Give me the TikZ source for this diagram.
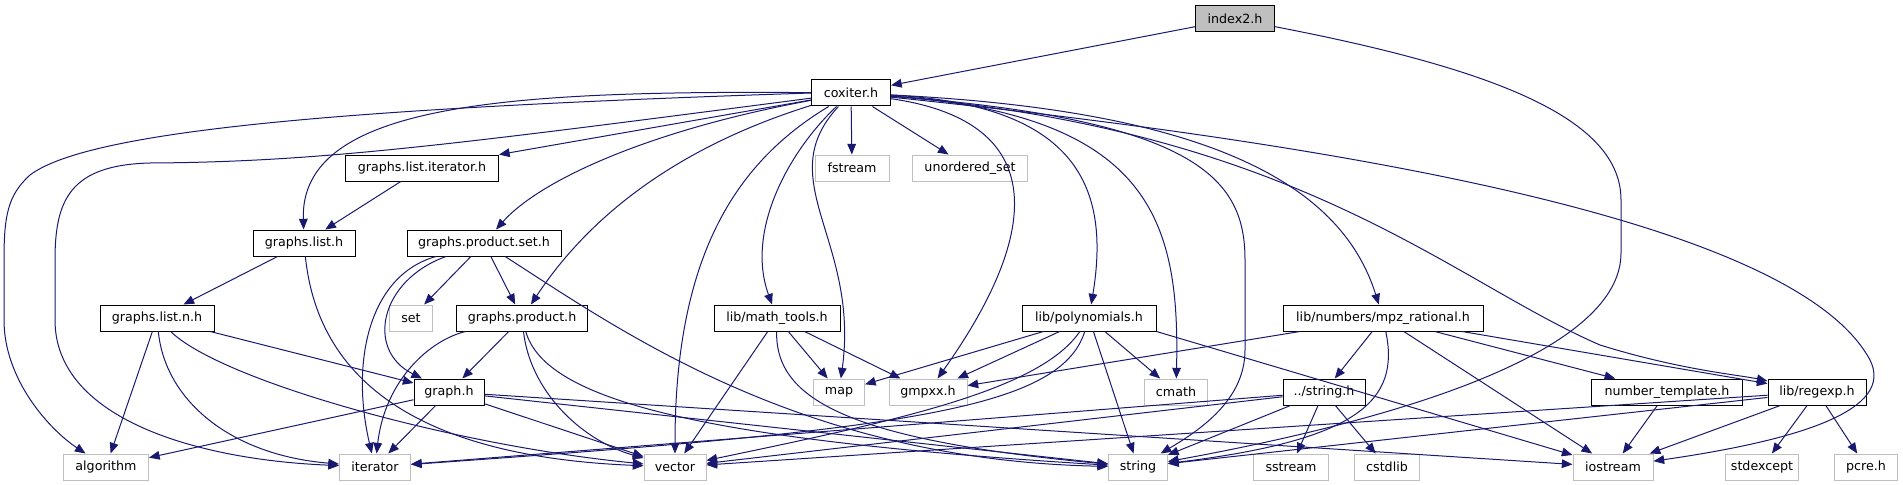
\documentclass[tikz,border=0pt]{standalone}
\usepackage{fontspec}
\setmainfont{DejaVu Sans}
\usetikzlibrary{arrows.meta}
\definecolor{depblue}{HTML}{191970}
\definecolor{extgray}{HTML}{BFBFBF}

\begin{document}
\begin{tikzpicture}[
        x=0.75pt, y=0.75pt,
        hdr/.style={
            draw=black,
            line width=0.75pt,
            fill=white,
            minimum height=19.5pt,
            inner xsep=2pt,
            inner ysep=1pt,
            font=\fontsize{9.5}{11}\selectfont
        },
        syshdr/.style={hdr, draw=extgray},
        roothdr/.style={hdr, fill=extgray},
        dep/.style={-{Triangle[length=8pt, width=6.5pt]}, draw=depblue, line width=0.75pt}
    ]
        \useasboundingbox (0,0) rectangle (1903,-485);

        % Top
        \node[roothdr, minimum width=59.25pt] (index2) at (1235,-19) {index2.h};
        \node[hdr, minimum width=59.25pt] (coxiter) at (851,-93) {coxiter.h};

        % Second row
        \node[hdr, minimum width=114.75pt] (listit) at (422,-168) {graphs.list.iterator.h};
        \node[syshdr, minimum width=55.5pt] (fstream) at (852,-168) {fstream};
        \node[syshdr, minimum width=86.25pt] (uset) at (970,-168) {unordered\_set};

        % Third row
        \node[hdr, minimum width=76.5pt] (glist) at (304,-243) {graphs.list.h};
        \node[hdr, minimum width=115.5pt] (gpset) at (484,-243) {graphs.product.set.h};

        % Fourth row
        \node[hdr, minimum width=85.5pt] (glistn) at (157,-318) {graphs.list.n.h};
        \node[syshdr, minimum width=32.25pt] (set) at (411,-318) {set};
        \node[hdr, minimum width=98.25pt] (gprod) at (522,-318) {graphs.product.h};
        \node[hdr, minimum width=94.5pt] (mathtools) at (777,-318) {lib/math\_tools.h};
        \node[hdr, minimum width=100.5pt] (poly) at (1089,-318) {lib/polynomials.h};
        \node[hdr, minimum width=150pt] (mpz) at (1383,-318) {lib/numbers/mpz\_rational.h};

        % Fifth row
        \node[hdr, minimum width=52.5pt] (graph) at (449,-392) {graph.h};
        \node[syshdr, minimum width=38.25pt] (map) at (839,-392) {map};
        \node[syshdr, minimum width=58.5pt] (gmpxx) at (928,-392) {gmpxx.h};
        \node[syshdr, minimum width=47.25pt] (cmath) at (1176,-392) {cmath};
        \node[hdr, minimum width=61.5pt] (strh) at (1324,-392) {../string.h};
        \node[hdr, minimum width=113.25pt] (numtpl) at (1667,-392) {number\_template.h};
        \node[hdr, minimum width=73.5pt] (regexp) at (1817,-392) {lib/regexp.h};

        % Bottom row
        \node[syshdr, minimum width=63.75pt] (algorithm) at (106,-467) {algorithm};
        \node[syshdr, minimum width=53.25pt] (iterator) at (375,-467) {iterator};
        \node[syshdr, minimum width=46.5pt] (vector) at (675,-467) {vector};
        \node[syshdr, minimum width=44.25pt] (string) at (1138,-467) {string};
        \node[syshdr, minimum width=56.25pt] (sstream) at (1291,-467) {sstream};
        \node[syshdr, minimum width=48.75pt] (cstdlib) at (1387,-467) {cstdlib};
        \node[syshdr, minimum width=60pt] (iostream) at (1613,-467) {iostream};
        \node[syshdr, minimum width=54.75pt] (stdexcept) at (1762,-467) {stdexcept};
        \node[syshdr, minimum width=47.25pt] (pcre) at (1866,-467) {pcre.h};

        % index2.h
        \draw[dep] (index2) -- (coxiter);
        \draw[dep] (index2) .. controls (1500,-70) and (1621,-120) .. (1621,-200) -- (1621,-253)
            .. controls (1621,-340) and (1450,-410) .. (string);

        % coxiter.h
        \draw[dep] (coxiter.west) .. controls (350,-108) and (90,-130) .. (30,-175)
            .. controls (8,-195) and (4,-215) .. (4,-260) -- (4,-320)
            .. controls (4,-380) and (50,-430) .. (algorithm);
        \draw[dep] (coxiter) .. controls (450,-145) and (320,-162) .. (150,-163)
            .. controls (70,-165) and (55,-200) .. (55,-260) -- (55,-320)
            .. controls (55,-420) and (200,-460) .. (iterator);
        \draw[dep] (coxiter) .. controls (500,-90) and (300,-105) .. (glist);
        \draw[dep] (coxiter) -- (listit);
        \draw[dep] (coxiter) .. controls (650,-130) and (540,-180) .. (gpset);
        \draw[dep] (coxiter) .. controls (700,-140) and (600,-200) .. (gprod);
        \draw[dep] (coxiter) .. controls (740,-160) and (675,-250) .. (vector);
        \draw[dep] (coxiter) .. controls (790,-150) and (745,-230) .. (mathtools);
        \draw[dep] (coxiter) .. controls (770,-180) and (860,-240) .. (map);
        \draw[dep] (coxiter) -- (fstream);
        \draw[dep] (coxiter) -- (uset);
        \draw[dep] (coxiter) .. controls (1040,-120) and (1050,-220) .. (gmpxx);
        \draw[dep] (coxiter) .. controls (1080,-105) and (1110,-190) .. (poly);
        \draw[dep] (coxiter) .. controls (1150,-115) and (1180,-220) .. (cmath);
        \draw[dep] (coxiter) .. controls (1200,-120) and (1245,-180) .. (1245,-260) -- (1245,-350)
            .. controls (1245,-400) and (1200,-430) .. (string);
        \draw[dep] (coxiter) .. controls (1200,-110) and (1340,-180) .. (mpz);
        \draw[dep] (coxiter) .. controls (1300,-130) and (1450,-280) .. (1600,-345)
            .. controls (1680,-370) and (1740,-375) .. (regexp);
        \draw[dep] (coxiter) .. controls (1400,-150) and (1800,-230) .. (1870,-360)
            .. controls (1895,-410) and (1800,-440) .. (iostream);

        % graphs headers
        \draw[dep] (listit) -- (glist);
        \draw[dep] (glist) -- (glistn);
        \draw[dep] (glist) .. controls (320,-400) and (450,-458) .. (vector);
        \draw[dep] (gpset) -- (set);
        \draw[dep] (gpset) -- (gprod);
        \draw[dep] (gpset) .. controls (380,-280) and (365,-350) .. (graph);
        \draw[dep] (gpset) .. controls (370,-275) and (350,-360) .. (iterator);
        \draw[dep] (gpset) .. controls (620,-330) and (800,-460) .. (string);
        \draw[dep] (glistn) -- (algorithm);
        \draw[dep] (glistn) .. controls (165,-400) and (230,-455) .. (iterator);
        \draw[dep] (glistn) -- (graph);
        \draw[dep] (glistn) .. controls (220,-380) and (450,-445) .. (vector);
        \draw[dep] (gprod) -- (graph);
        \draw[dep] (gprod) .. controls (430,-340) and (385,-380) .. (iterator);
        \draw[dep] (gprod) .. controls (530,-390) and (580,-440) .. (vector);
        \draw[dep] (gprod) .. controls (545,-400) and (700,-440) .. (string);
        \draw[dep] (graph) -- (algorithm);
        \draw[dep] (graph) -- (iterator);
        \draw[dep] (graph) -- (vector);
        \draw[dep] (graph) -- (string);
        \draw[dep] (graph) -- (iostream);

        % lib headers
        \draw[dep] (mathtools) -- (vector);
        \draw[dep] (mathtools) -- (map);
        \draw[dep] (mathtools) -- (gmpxx);
        \draw[dep] (mathtools) .. controls (775,-400) and (850,-440) .. (string);
        \draw[dep] (poly) -- (map);
        \draw[dep] (poly) -- (gmpxx);
        \draw[dep] (poly) -- (cmath);
        \draw[dep] (poly) -- (string);
        \draw[dep] (poly) .. controls (1040,-390) and (900,-420) .. (vector);
        \draw[dep] (poly) .. controls (1060,-410) and (900,-430) .. (iterator);
        \draw[dep] (poly.south east) -- (iostream);
        \draw[dep] (mpz) -- (gmpxx);
        \draw[dep] (mpz) -- (strh);
        \draw[dep] (mpz) .. controls (1400,-400) and (1360,-440) .. (string);
        \draw[dep] (mpz) -- (iostream);
        \draw[dep] (mpz) -- (numtpl);
        \draw[dep] (mpz) -- (regexp);
        \draw[dep] (strh) -- (iterator);
        \draw[dep] (strh) -- (vector);
        \draw[dep] (strh) -- (string);
        \draw[dep] (strh) -- (sstream);
        \draw[dep] (strh) -- (cstdlib);
        \draw[dep] (numtpl) -- (iostream);
        \draw[dep] (regexp) -- (string);
        \draw[dep] (regexp) -- (vector);
        \draw[dep] (regexp) -- (iostream);
        \draw[dep] (regexp) -- (stdexcept);
        \draw[dep] (regexp) -- (pcre);
    \end{tikzpicture}
\end{document}
